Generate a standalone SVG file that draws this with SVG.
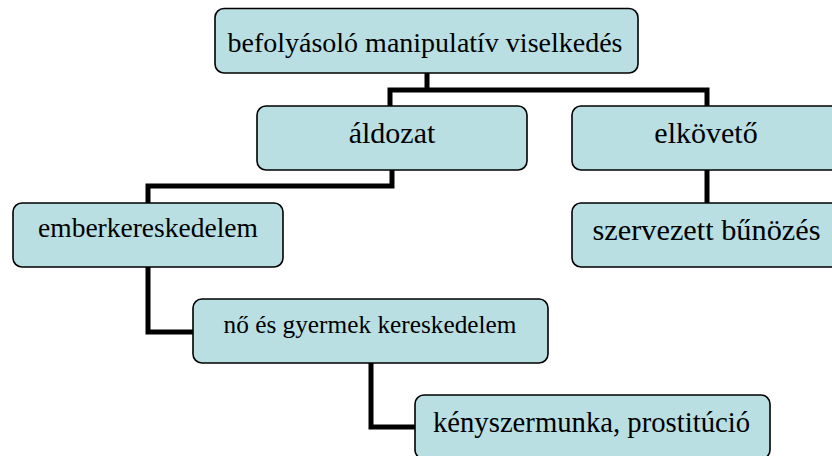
<svg xmlns="http://www.w3.org/2000/svg" width="832" height="456" viewBox="0 0 832 456">
<style>
.box{fill:#BADFE3;stroke:#000;stroke-width:1.6}
.lbl{font-family:"Liberation Serif","Times New Roman",serif;fill:#000;text-anchor:middle}
.conn{fill:none;stroke:#000;stroke-width:5;stroke-linejoin:miter;stroke-linecap:butt}
</style>
<rect width="832" height="456" fill="#fff"/>
<g id="connectors">
<path class="conn" d="M427,73 V90 M390,106 V90 H707 V106"/>
<path class="conn" d="M392,170 V186 H148 V203"/>
<path class="conn" d="M707,170 V203"/>
<path class="conn" d="M148,267 V332 H193"/>
<path class="conn" d="M371,363 V427 H415"/>
</g>
<g id="n-befolyasolo">
<rect class="box" x="215" y="8.5" width="423" height="64.5" rx="9"/>
<text class="lbl" x="425" y="52" font-size="28">befolyásoló manipulatív viselkedés</text>
</g>
<g id="n-aldozat">
<rect class="box" x="257" y="106" width="270" height="64" rx="9"/>
<text class="lbl" x="392" y="143" font-size="30">áldozat</text>
</g>
<g id="n-elkoveto">
<rect class="box" x="572" y="106" width="268" height="64" rx="9"/>
<text class="lbl" x="706" y="143" font-size="30">elkövető</text>
</g>
<g id="n-emberkereskedelem">
<rect class="box" x="13" y="203" width="270" height="64" rx="9"/>
<text class="lbl" x="148" y="237" font-size="27.5">emberkereskedelem</text>
</g>
<g id="n-szervezett">
<rect class="box" x="572" y="203" width="268" height="64" rx="9"/>
<text class="lbl" x="706.5" y="240" font-size="30.3">szervezett bűnözés</text>
</g>
<g id="n-no-gyermek">
<rect class="box" x="193" y="299" width="355" height="64" rx="9"/>
<text class="lbl" x="370" y="333" font-size="25.3">nő és gyermek kereskedelem</text>
</g>
<g id="n-kenyszermunka">
<rect class="box" x="415" y="395" width="355" height="64" rx="9"/>
<text class="lbl" x="591.5" y="432" font-size="28.7">kényszermunka, prostitúció</text>
</g>
</svg>
